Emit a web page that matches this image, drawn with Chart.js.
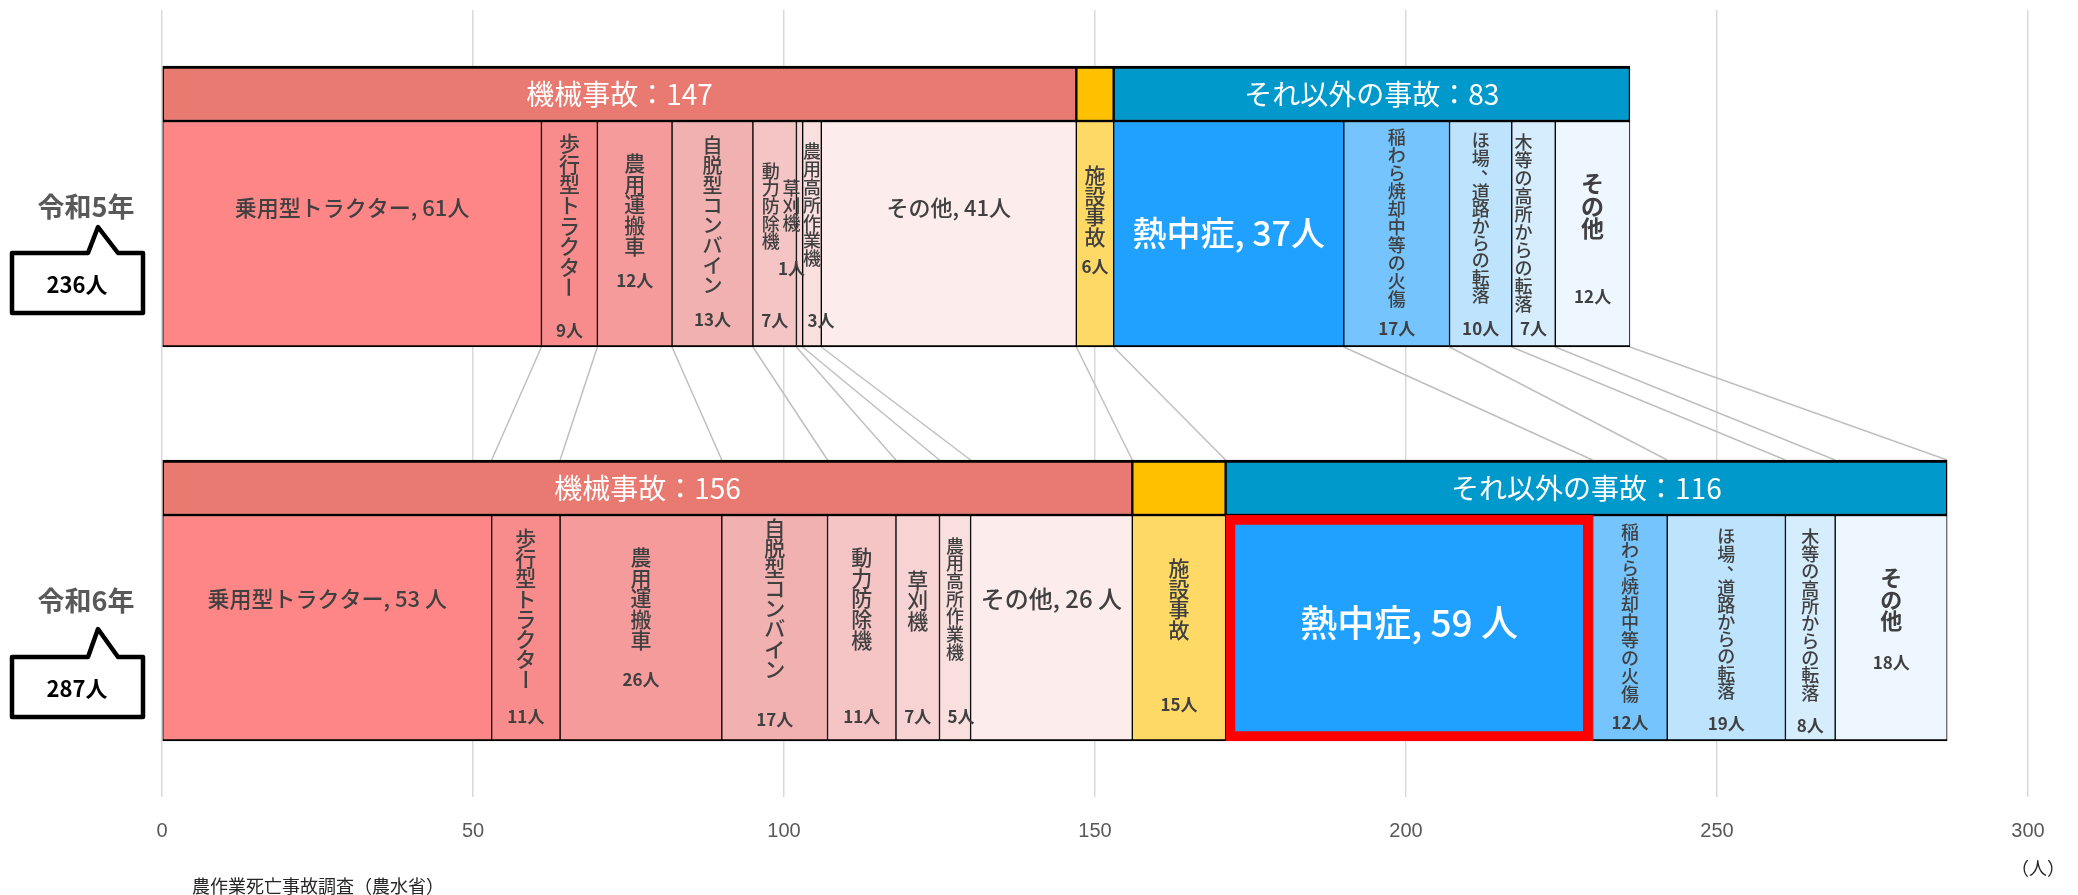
<!DOCTYPE html>
<html lang="ja">
<head>
<meta charset="utf-8">
<title>農作業死亡事故の内訳</title>
<script src="https://cdn.jsdelivr.net/npm/chart.js@4.4.1/dist/chart.umd.min.js"></script>
<style>
  html, body { margin: 0; padding: 0; background: #fff; }
</style>
</head>
<body>
<canvas id="chart" width="2078" height="895"></canvas>
<script>
// --- data ---
const years = [5, 6];                       // 令和5年, 令和6年
const yearLabels = ["令和5年", "令和6年"];
const groupNames = ["機械事故", "施設事故", "それ以外の事故"];
const detailNames = ["乗用型トラクター", "歩行型トラクター", "農用運搬車", "自脱型コンバイン",
  "動力防除機", "草刈機", "農用高所作業機", "その他", "施設事故",
  "熱中症", "稲わら焼却中等の火傷", "ほ場、道路からの転落", "木等の高所からの転落", "その他"];
const detailGroup = [0, 0, 0, 0, 0, 0, 0, 0, 1, 2, 2, 2, 2, 2];
const r5Values = [61, 9, 12, 13, 7, 1, 3, 41, 6, 37, 17, 10, 7, 12];
const r6Values = [53, 11, 26, 17, 11, 7, 5, 26, 15, 59, 12, 19, 8, 18];
const xMax = 300, xStep = 50;

// --- styles ---
const FONT = "'Noto Sans CJK JP', sans-serif";
const groupFill = ["#E97A72", "#FFC000", "#0099CC"];
const detailFill = ["#FF8686", "#F88C8C", "#F59B9B", "#F2B1B1", "#F5C4C4", "#F8D3D3", "#FADFDF",
  "#FCECEC", "#FFD966", "#20A0FF", "#76C4FD", "#BEE3FC", "#D6EDFD", "#EEF7FF"];
const HEAT = 9; // 熱中症, 令和6年 is framed in red

// label placement per detail segment, [令和5年, 令和6年], px from top of the bar
const detailLayout = [
  {h: true, f: [22, 22], y: [87, 84]},
  {f: [21, 20.6], t: [12, 13], c: [210, 202]},
  {f: [21, 21], t: [32, 32], c: [160, 165]},
  {f: [20.4, 20.5], t: [14, 3], c: [199, 205]},
  {f: [18, 21], t: [41, 32], c: [200, 202], dx: [-4, 0]},
  {f: [17.5, 20.7], t: [59, 55], c: [148, 202], dx: [-8, 0], cdx: [-8, 0]},
  {f: [18.3, 18], t: [21, 22], c: [200, 202], cdx: [9, 6]},
  {h: true, f: [22, 24], y: [87, 84]},
  {f: [21, 21], t: [44, 43], c: [146, 190]},
  {h: true, f: [34, 37], y: [112, 108], white: true},
  {f: [18.4, 18.4], t: [7, 8], c: [208, 208]},
  {f: [17.5, 17.5], t: [11, 13], c: [208, 209]},
  {f: [18.4, 17.7], t: [12, 13], c: [208, 211], dx: [-10, 0]},
  {f: [23, 22], t: [51, 52], c: [176, 148], bold: true}
];
const unitSep = ["", " "];
const calloutTop = [132, 142];
const apexUp = [26, 28];

const rows = [r5Values, r6Values];
const groupSum = (r, g) => rows[r].reduce((s, v, i) => s + (detailGroup[i] === g ? v : 0), 0);

const datasets = [];
groupNames.forEach((g, gi) => {
  datasets.push({
    label: g,
    stack: "head",
    data: years.map((_, r) => groupSum(r, gi)),
    backgroundColor: groupFill[gi],
    borderColor: "#000",
    borderWidth: {top: 3, bottom: 1.5, left: 1.5, right: 1.5},
    borderSkipped: false,
    barThickness: 55
  });
});
detailNames.forEach((name, i) => {
  datasets.push({
    label: name,
    stack: "detail",
    data: rows.map(row => row[i]),
    backgroundColor: detailFill[i],
    borderColor: i === HEAT ? ["#000", "#FF0000"] : "#000",
    borderWidth: c => (i === HEAT && c.dataIndex === 1) ? 10 : {top: 1.5, bottom: 2, left: 1, right: 1},
    borderRadius: c => (i === HEAT && c.dataIndex === 1) ? 5 : 0,
    borderSkipped: false,
    barThickness: 226
  });
});

function box(el) {
  const p = el.getProps(["x", "y", "base", "height"], true);
  return {l: Math.min(p.x, p.base), r: Math.max(p.x, p.base), top: p.y - p.height / 2,
    bottom: p.y + p.height / 2, cy: p.y};
}

function drawVertical(ctx, text, x, y0, pitch, fnt) {
  ctx.font = fnt;
  ctx.textAlign = "center";
  ctx.textBaseline = "middle";
  [...text].forEach((ch, k) => {
    const y = y0 + pitch * (k + 0.5);
    if (ch === "ー") {
      ctx.save(); ctx.translate(x, y); ctx.rotate(Math.PI / 2); ctx.fillText(ch, 0, 0); ctx.restore();
    } else if (ch === "、") {
      ctx.fillText(ch, x + pitch * 0.55, y - pitch * 0.45);
    } else {
      ctx.fillText(ch, x, y);
    }
  });
}

// grey lines linking the boundaries of the two years
const connectors = {
  id: "connectors",
  beforeDatasetsDraw(chart) {
    const ctx = chart.ctx;
    const yTo = box(chart.getDatasetMeta(0).data[1]).top;
    ctx.save();
    ctx.strokeStyle = "#BFBFBF";
    ctx.lineWidth = 1.5;
    detailNames.forEach((_, i) => {
      const m = chart.getDatasetMeta(groupNames.length + i);
      const a = box(m.data[0]), b = box(m.data[1]);
      ctx.beginPath();
      ctx.moveTo(a.r, a.bottom);
      ctx.lineTo(b.r, yTo);
      ctx.stroke();
    });
    ctx.restore();
  }
};

const barLabels = {
  id: "barLabels",
  afterDatasetsDraw(chart) {
    const ctx = chart.ctx;
    ctx.save();
    ctx.textAlign = "center";
    ctx.textBaseline = "middle";
    // group headers
    groupNames.forEach((g, gi) => {
      if (gi === 1) return;
      chart.getDatasetMeta(gi).data.forEach((el, r) => {
        const b = box(el);
        ctx.font = `400 28px ${FONT}`;
        ctx.fillStyle = "#fff";
        ctx.fillText(`${g}：${groupSum(r, gi)}`, (b.l + b.r) / 2, b.cy + 1);
      });
    });
    // detail segments
    detailNames.forEach((name, i) => {
      const L = detailLayout[i];
      chart.getDatasetMeta(groupNames.length + i).data.forEach((el, r) => {
        const b = box(el);
        const cx = (b.l + b.r) / 2;
        const v = rows[r][i];
        if (L.h) {
          ctx.font = `500 ${L.f[r]}px ${FONT}`;
          ctx.fillStyle = L.white ? "#fff" : "#404040";
          ctx.textAlign = "center";
          ctx.textBaseline = "middle";
          ctx.fillText(`${name}, ${v}${unitSep[r]}人`, cx, b.top + L.y[r]);
          return;
        }
        ctx.fillStyle = "#404040";
        const dx = L.dx ? L.dx[r] : 0;
        drawVertical(ctx, name, cx + dx, b.top + L.t[r], L.f[r] * 0.98,
          `${L.bold ? 700 : 500} ${Math.round(L.f[r])}px ${FONT}`);
        ctx.font = `700 17px ${FONT}`;
        ctx.textAlign = "center";
        ctx.textBaseline = "middle";
        ctx.fillText(`${v}人`, cx + (L.cdx ? L.cdx[r] : 0), b.top + L.c[r]);
      });
    });
    ctx.restore();
  }
};

// year labels, callouts with totals, unit and source
const sideNotes = {
  id: "sideNotes",
  afterDraw(chart) {
    const ctx = chart.ctx;
    ctx.save();
    chart.getDatasetMeta(groupNames.length).data.forEach((el, r) => {
      const top = box(el).top;
      ctx.textAlign = "center";
      ctx.textBaseline = "middle";
      ctx.font = `700 27px ${FONT}`;
      ctx.fillStyle = "#595959";
      ctx.fillText(yearLabels[r], 86, top + 86);

      const t = top + calloutTop[r], bt = t + 60;
      ctx.beginPath();
      ctx.moveTo(12, t); ctx.lineTo(88, t); ctx.lineTo(98, t - apexUp[r]);
      ctx.lineTo(118, t); ctx.lineTo(143, t); ctx.lineTo(143, bt); ctx.lineTo(12, bt);
      ctx.closePath();
      ctx.fillStyle = "#fff";
      ctx.fill();
      ctx.lineWidth = 4.5;
      ctx.lineJoin = "round";
      ctx.strokeStyle = "#000";
      ctx.stroke();
      const total = rows[r].reduce((s, x) => s + x, 0);
      ctx.font = `700 22px ${FONT}`;
      ctx.fillStyle = "#000";
      ctx.fillText(`${total}人`, 77, t + 32);
    });
    ctx.font = `400 18px ${FONT}`;
    ctx.fillStyle = "#262626";
    ctx.textAlign = "center";
    ctx.fillText("（人）", 2038, 868);
    ctx.textAlign = "left";
    ctx.fillText("農作業死亡事故調査（農水省）", 192, 886);
    ctx.restore();
  }
};

Chart.defaults.font.family = FONT;

new Chart(document.getElementById("chart"), {
  type: "bar",
  data: { labels: years, datasets },
  options: {
    indexAxis: "y",
    responsive: false,
    animation: false,
    devicePixelRatio: 1,
    layout: { padding: { left: 162, right: 50, top: 10, bottom: 30 } },
    plugins: { legend: { display: false }, tooltip: { enabled: false } },
    scales: {
      x: {
        stacked: true,
        min: 0, max: xMax,
        ticks: { stepSize: xStep, padding: 22, color: "#595959",
          font: { family: "'Liberation Sans', Arial, sans-serif", size: 20 } },
        grid: { color: "#D9D9D9", lineWidth: 1.5, drawTicks: false },
        border: { display: false }
      },
      y: {
        type: "linear",
        display: false,
        reverse: true,
        offset: false,
        bounds: "data",
        // row 5 meets its detail bar at 121px, row 6 at 515px (plot 10..797)
        min: 5 - 111 / 394,
        max: 6 + 282 / 394
      }
    }
  },
  plugins: [connectors, barLabels, sideNotes]
});
</script>
</body>
</html>
